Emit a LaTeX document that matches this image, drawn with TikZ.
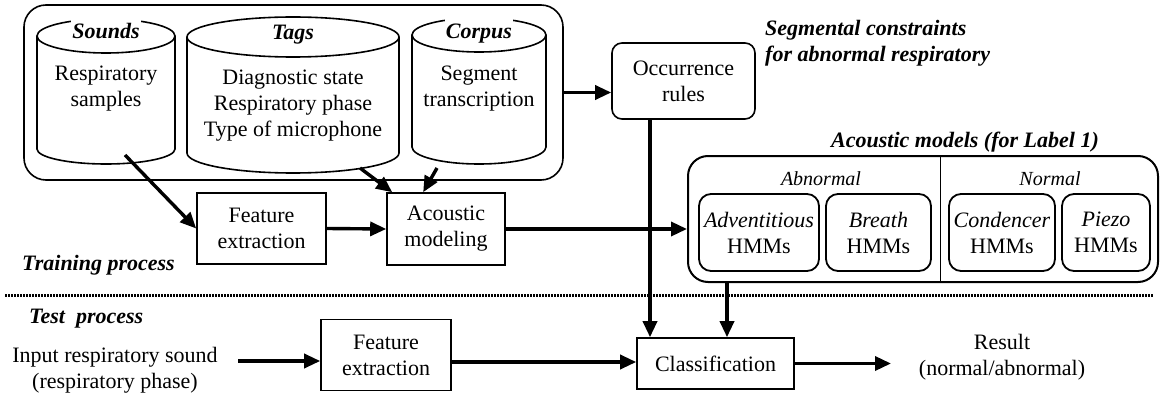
\documentclass[tikz,border=0pt]{standalone}
\usepackage{fontspec}
\setmainfont{Liberation Serif}
\usetikzlibrary{arrows.meta,calc}
\begin{document}
\begin{tikzpicture}[x=1pt,y=-1pt,
  every node/.style={font=\fontsize{22}{26}\selectfont, inner sep=0pt, align=center},
  box/.style={draw, line width=1.6pt},
  rbox/.style={box, rounded corners=10pt},
  ibox/.style={draw, line width=1.8pt, rounded corners=12pt, minimum height=77},
  hd/.style={font=\fontsize{22}{26}\selectfont\bfseries\itshape},
  sub/.style={font=\fontsize{20}{24}\selectfont\itshape},
  cyl/.style={line width=1.6pt},
  arr/.style={line width=3.4pt, -{Triangle[length=16pt,width=14pt]}},
  ]
\useasboundingbox (0,0) rectangle (1161,393);

% database container
\node[draw, line width=1.6pt, rounded corners=22pt, minimum width=539, minimum height=175] (db) at (293.5,92.5) {};

% cylinders
\draw[cyl] (106,36) ellipse [x radius=69, y radius=17];
\draw[cyl] (37,36) -- (37,149) arc[start angle=180, end angle=0, x radius=69, y radius=15] -- (175,36);
\draw[cyl] (293,37) ellipse [x radius=106, y radius=20];
\draw[cyl] (187,37) -- (187,153) arc[start angle=180, end angle=0, x radius=106, y radius=20] -- (399,37);
\draw[cyl] (479,35) ellipse [x radius=67, y radius=17];
\draw[cyl] (412,35) -- (412,147) arc[start angle=180, end angle=0, x radius=67, y radius=17] -- (546,35);

\node[hd, fill=white, inner sep=1pt, text height=21pt, anchor=base] (sndh) at (106,39) {Sounds};
\node[hd, anchor=base] (tgh) at (293,40) {Tags};
\node[hd, fill=white, inner sep=1pt, text height=22pt, anchor=base] (cph) at (479,39) {Corpus};

\node (snd) at (106,89) {Respiratory\\samples};
\node (tg) at (293,106) {Diagnostic state\\Respiratory phase\\Type of microphone};
\node (cp) at (479,89) {Segment\\transcription};

% occurrence rules
\node[rbox, minimum width=143, minimum height=76] (occ) at (683.5,81) {Occurrence\\rules};
\node[hd, align=left, anchor=north west] (seg) at (765,20) {Segmental constraints\\for abnormal respiratory};

% training row
\node[box, minimum width=129, minimum height=71] (f1) at (261.5,228.5) {Feature\\extraction};
\node[box, minimum width=118, minimum height=72] (am) at (446,229) {Acoustic\\modeling};
\node[hd, anchor=base west] (trn) at (22,270) {Training process};

% acoustic models
\node[draw, line width=2pt, rounded corners=20pt, minimum width=470, minimum height=126] (amb) at (923,219) {};
\draw[line width=1pt] (940,156) -- (940,282);
\node[hd, anchor=base] (amt) at (965,147) {Acoustic models (for Label 1)};
\node[sub, anchor=base] (abn) at (821,185) {Abnormal};
\node[sub, anchor=base] (nrm) at (1050,185) {Normal};
\node[ibox, minimum width=120] (adv) at (759,232.5) {\textit{Adventitious}\\HMMs};
\node[ibox, minimum width=105] (br) at (878.5,232.5) {\textit{Breath}\\HMMs};
\node[ibox, minimum width=106] (con) at (1002,232.5) {\textit{Condencer}\\HMMs};
\node[ibox, minimum width=88] (pz) at (1106,232.5) {\textit{Piezo}\\HMMs};

% separator
\draw[line width=3pt, dash pattern=on 1.5pt off 1.5pt] (5,295) -- (1153,295);

% test row
\node[hd, anchor=base west] (tst) at (29,323) {Test~~process};
\node (inp) at (115,370) {Input respiratory sound\\(respiratory phase)};
\node[box, minimum width=130, minimum height=71] (f2) at (386,355) {Feature\\extraction};
\node[box, minimum width=157, minimum height=51] (cls) at (715.5,363.5) {Classification};
\node (res) at (1002,357) {Result\\(normal/abnormal)};

% connectors
\coordinate (s1) at (125,155);
\coordinate (t1) at (360,168);
\coordinate (c1) at (437,168);
\coordinate (o1) at (650,119);
\coordinate (a1) at (727,282);
\coordinate (i1) at (238,361);
\coordinate (q) at (0,362);
\coordinate (r1) at (891,363.5);

\draw[arr] (s1) -- (f1.west);
\draw[arr] (t1) -- ($(am.north west)+(6,0)$);
\draw[arr] (c1) -- ($(am.north west)+(37,0)$);
\draw[arr] (f1.east) -- (am.west);
\draw[arr] (am.east) -- (am.east -| amb.west);
\draw[arr] (db.east) -- (db.east -| occ.west);
\draw[arr] (o1) -- (o1 |- cls.north);
\draw[arr] (a1) -- (a1 |- cls.north);
\draw[arr] (i1) -- (i1 -| f2.west);
\draw[arr] (f2.east |- q) -- (cls.west |- q);
\draw[arr] (cls.east) -- (r1);
\end{tikzpicture}
\end{document}
